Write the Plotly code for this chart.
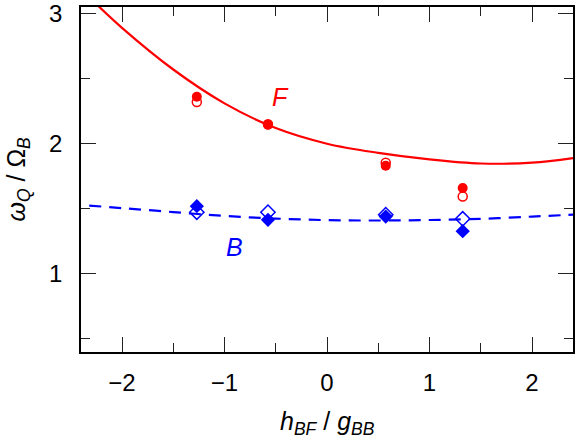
import plotly.graph_objects as go

# fitted curves
curve_x_F = [-2.3, -2.0, -1.5, -1.0, -0.5, 0.0, 0.5, 1.0, 1.5, 2.0, 2.4]
curve_F = [3.11, 2.89, 2.57, 2.31, 2.12, 2.0, 1.93, 1.88, 1.848, 1.855, 1.89]

curve_x_B = [-2.32, -2.0, -1.5, -1.0, -0.5, 0.0, 0.5, 1.0, 1.5, 2.0, 2.4]
curve_B = [1.525, 1.505, 1.475, 1.445, 1.425, 1.413, 1.41, 1.414, 1.423, 1.44, 1.455]

# measured points
h_bf = [-1.27, -0.576, 0.573, 1.324]
F_filled = [2.36, 2.146, 1.83, 1.66]
F_open = [2.32, 2.15, 1.854, 1.595]
B_filled = [1.52, 1.415, 1.44, 1.328]
B_open = [1.474, 1.474, 1.455, 1.423]

RED = '#ff0000'
BLUE = '#0000ff'
FONT = 'Liberation Sans, Arial, sans-serif'

fig = go.Figure()
fig.add_trace(go.Scatter(x=curve_x_F, y=curve_F, mode='lines', line_shape='spline',
                         line=dict(color=RED, width=2.2)))
fig.add_trace(go.Scatter(x=curve_x_B, y=curve_B, mode='lines', line_shape='spline',
                         line=dict(color=BLUE, width=2.2, dash='12px,8px')))
fig.add_trace(go.Scatter(x=h_bf, y=F_open, mode='markers',
                         marker=dict(symbol='circle-open', size=9, color=RED, line=dict(width=1.5))))
fig.add_trace(go.Scatter(x=h_bf, y=F_filled, mode='markers',
                         marker=dict(symbol='circle', size=10, color=RED)))
fig.add_trace(go.Scatter(x=h_bf, y=B_open, mode='markers',
                         marker=dict(symbol='diamond-open', size=11, color=BLUE, line=dict(width=1.5))))
fig.add_trace(go.Scatter(x=h_bf, y=B_filled, mode='markers',
                         marker=dict(symbol='diamond', size=11, color=BLUE)))

axis_common = dict(
    showgrid=False, zeroline=False, showline=True, linecolor='black', linewidth=1.5,
    mirror='ticks', ticks='inside', ticklen=15, tickwidth=1.2, tickcolor='#222',
    tickfont=dict(family=FONT, size=24, color='black'),
    ticklabeloverflow='allow', automargin=False,
)
fig.update_xaxes(range=[-2.4, 2.4], dtick=1, tick0=0, ticklabelstandoff=8,
                 minor=dict(dtick=0.5, ticks='inside', ticklen=9, tickcolor='#222'),
                 **axis_common)
fig.update_yaxes(range=[0.4, 3.05], dtick=1, tick0=0, ticklabelstandoff=12,
                 minor=dict(dtick=0.5, ticks='inside', ticklen=9, tickcolor='#222'),
                 **axis_common)

fig.add_annotation(x=-0.45, y=2.36, text='<i>F</i>', showarrow=False,
                   font=dict(family=FONT, size=25, color=RED))
fig.add_annotation(x=-0.9, y=1.21, text='<i>B</i>', showarrow=False,
                   font=dict(family=FONT, size=25, color=BLUE))
fig.add_annotation(xref='paper', yref='paper', x=0.5, y=-0.207, yanchor='middle',
                   text='<i>h</i><sub><i>BF</i></sub> / <i>g</i><sub><i>BB</i></sub>',
                   showarrow=False, font=dict(family=FONT, size=25, color='black'))
fig.add_annotation(xref='paper', yref='paper', x=-0.13, y=0.5, xanchor='center',
                   textangle=-90,
                   text='<i>ω</i><sub><i>Q</i></sub> / Ω<sub><i>B</i></sub>',
                   showarrow=False, font=dict(family=FONT, size=25, color='black'))

fig.update_layout(
    width=579, height=442, showlegend=False,
    margin=dict(l=81, r=6, t=7, b=90),
    plot_bgcolor='white', paper_bgcolor='white',
)

fig.write_html("out.html", config={'displayModeBar': False},
               post_script="document.body.style.margin='0px';")
